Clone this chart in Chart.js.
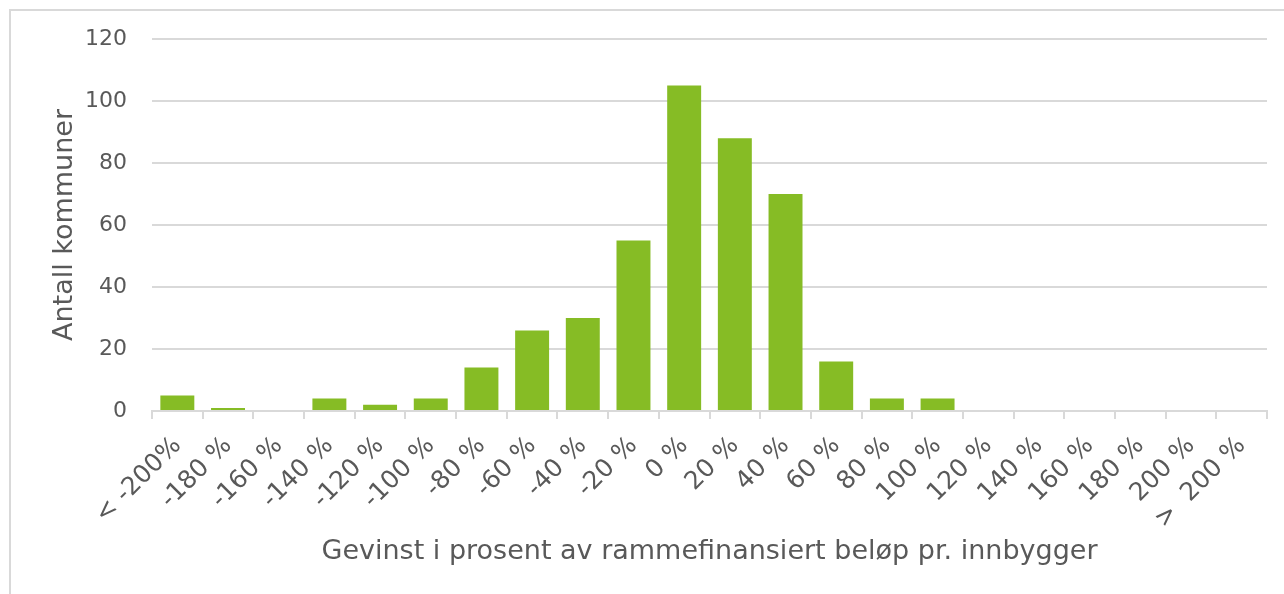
<!DOCTYPE html>
<html>
<head>
<meta charset="utf-8">
<script src="https://cdn.jsdelivr.net/npm/chart.js@4"></script>
<style>
    body { margin: 0; background: #fff; overflow: hidden; }
    #frame { position: absolute; left: 9px; top: 9px; width: 1300px; height: 620px; border: 2px solid #d9d9d9; }
    #wrap { position: absolute; left: 0; top: 0; width: 1284px; height: 594px; }
</style>
</head>
<body>
<div id="frame"></div>
<div id="wrap"><canvas id="histChart" width="1284" height="594"></canvas></div>
<script>
const categories = ['< -200%', '-180 %', '-160 %', '-140 %', '-120 %', '-100 %', '-80 %', '-60 %', '-40 %', '-20 %',
    '0 %', '20 %', '40 %', '60 %', '80 %', '100 %', '120 %', '140 %', '160 %', '180 %', '200 %', '>  200 %'];
const antallKommuner = [5, 1, 0, 4, 2, 4, 14, 26, 30, 55, 105, 88, 70, 16, 4, 4, 0, 0, 0, 0, 0, 0];
const yTicks = [0, 20, 40, 60, 80, 100, 120];

const textColor = '#595959';
const gridColor = '#d9d9d9';
const fontFamily = '"DejaVu Sans", Verdana, sans-serif';

// plot area edges
const padLeft = 49, padBottom = 26;

const ctx = document.getElementById('histChart').getContext('2d');
new Chart(ctx, {
    type: 'bar',
    data: {
        labels: categories,
        datasets: [{
            label: 'Antall kommuner',
            data: antallKommuner,
            backgroundColor: '#86bc25',
            barPercentage: 0.67,
            categoryPercentage: 1.0
        }]
    },
    options: {
        responsive: false,
        animation: false,
        layout: {
            padding: { left: padLeft, right: 17, top: 39, bottom: padBottom }
        },
        plugins: {
            legend: { display: false },
            tooltip: { enabled: false }
        },
        scales: {
            x: {
                border: { display: true, color: gridColor, width: 2 },
                grid: {
                    offset: true,
                    drawOnChartArea: false,
                    drawTicks: true,
                    tickLength: 8,
                    color: gridColor,
                    lineWidth: 2
                },
                ticks: {
                    color: textColor,
                    font: { family: fontFamily, size: 25 },
                    minRotation: 45,
                    maxRotation: 45,
                    autoSkip: false,
                    padding: 12
                },
                title: {
                    display: true,
                    text: 'Gevinst i prosent av rammefinansiert beløp pr. innbygger',
                    color: textColor,
                    font: { family: fontFamily, size: 27 },
                    padding: { top: 4, bottom: 0 }
                },
                afterFit: scale => { scale.height = 594 - 411 - padBottom; }
            },
            y: {
                min: 0,
                max: 120,
                border: { display: false },
                grid: { color: gridColor, lineWidth: 2, drawTicks: false },
                afterBuildTicks: scale => { scale.ticks = yTicks.map(v => ({ value: v })); },
                ticks: {
                    color: textColor,
                    font: { family: fontFamily, size: 22 },
                    padding: 25
                },
                title: {
                    display: true,
                    text: 'Antall kommuner',
                    color: textColor,
                    font: { family: fontFamily, size: 27 },
                    padding: { top: 0, bottom: 0 }
                },
                afterFit: scale => { scale.width = 152 - padLeft; }
            }
        }
    }
});
</script>
</body>
</html>
